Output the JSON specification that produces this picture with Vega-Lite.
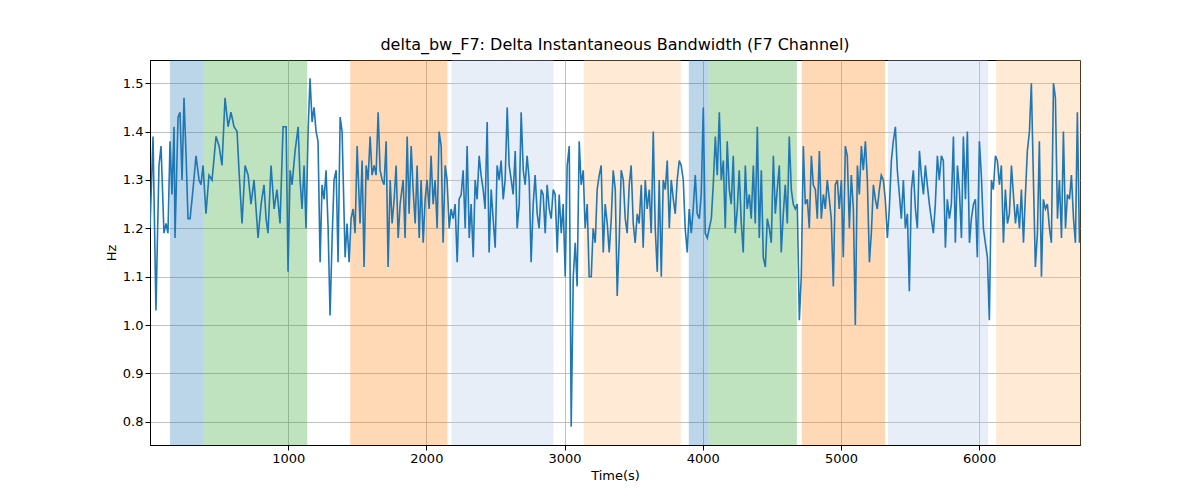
{"$schema":"https://vega.github.io/schema/vega-lite/v6.json","width":930,"height":385,"autosize":{"type":"none"},"padding":{"left":150,"top":60,"right":120,"bottom":55},"background":"white",
"title":{"text":"delta_bw_F7: Delta Instantaneous Bandwidth (F7 Channel)","font":"DejaVu Sans","fontSize":16,"fontWeight":"normal","offset":7},
"config":{"view":{"stroke":"black","strokeWidth":1},"axis":{"labelFont":"DejaVu Sans","titleFont":"DejaVu Sans","labelFontSize":13,"titleFontSize":13,"titleFontWeight":"normal","gridColor":"#b0b0b0","gridWidth":0.8,"domainColor":"black","tickColor":"black","labelColor":"black","tickSize":5}},
"datasets":{"spans":[{"a":145,"b":384,"c":"A"},{"a":384,"b":1138,"c":"B"},{"a":1449,"b":2152,"c":"C"},{"a":2181,"b":2920,"c":"D"},{"a":3138,"b":3841,"c":"E"},{"a":3899,"b":4043,"c":"A"},{"a":4043,"b":4681,"c":"B"},{"a":4717,"b":5319,"c":"C"},{"a":5341,"b":6065,"c":"D"},{"a":6123,"b":6739,"c":"E"}],
"line":[[0,1.20],[22,1.39],[43,1.03],[65,1.33],[80,1.37],[101,1.19],[116,1.21],[130,1.19],[145,1.38],[159,1.27],[174,1.41],[181,1.18],[203,1.43],[217,1.44],[232,1.30],[246,1.47],[261,1.35],[275,1.22],[290,1.22],[311,1.28],[333,1.35],[355,1.30],[369,1.29],[384,1.33],[405,1.23],[427,1.31],[449,1.30],[478,1.39],[500,1.37],[521,1.33],[543,1.47],[565,1.41],[586,1.44],[608,1.41],[630,1.40],[644,1.32],[666,1.21],[688,1.33],[710,1.31],[731,1.25],[753,1.30],[782,1.18],[804,1.25],[825,1.29],[840,1.22],[854,1.19],[876,1.33],[898,1.24],[919,1.28],[941,1.21],[963,1.41],[985,1.41],[999,1.11],[1014,1.32],[1028,1.29],[1050,1.36],[1072,1.41],[1086,1.30],[1100,1.24],[1115,1.33],[1129,1.20],[1144,1.40],[1158,1.51],[1173,1.42],[1187,1.45],[1202,1.40],[1216,1.38],[1231,1.13],[1245,1.29],[1260,1.26],[1274,1.32],[1289,1.20],[1303,1.02],[1318,1.18],[1332,1.30],[1347,1.32],[1361,1.13],[1376,1.43],[1390,1.40],[1412,1.14],[1426,1.21],[1441,1.13],[1455,1.22],[1470,1.24],[1484,1.19],[1499,1.37],[1520,1.21],[1535,1.34],[1549,1.12],[1564,1.33],[1578,1.30],[1593,1.39],[1607,1.31],[1622,1.33],[1636,1.31],[1651,1.44],[1665,1.32],[1680,1.30],[1694,1.29],[1709,1.38],[1723,1.12],[1738,1.30],[1752,1.21],[1767,1.26],[1781,1.33],[1796,1.18],[1810,1.25],[1832,1.30],[1846,1.18],[1861,1.39],[1875,1.23],[1890,1.37],[1904,1.28],[1919,1.21],[1933,1.33],[1948,1.18],[1962,1.30],[1977,1.17],[1991,1.26],[2005,1.30],[2020,1.24],[2034,1.35],[2049,1.25],[2063,1.30],[2078,1.20],[2092,1.40],[2107,1.37],[2121,1.17],[2136,1.33],[2150,1.30],[2165,1.20],[2179,1.24],[2194,1.22],[2208,1.25],[2223,1.13],[2237,1.26],[2252,1.27],[2266,1.32],[2281,1.20],[2295,1.37],[2310,1.18],[2324,1.25],[2339,1.14],[2353,1.30],[2367,1.26],[2382,1.35],[2396,1.31],[2411,1.28],[2425,1.24],[2440,1.42],[2454,1.15],[2469,1.28],[2483,1.22],[2498,1.16],[2512,1.33],[2527,1.30],[2541,1.34],[2556,1.26],[2570,1.30],[2585,1.45],[2599,1.33],[2614,1.30],[2628,1.27],[2643,1.36],[2657,1.20],[2672,1.25],[2686,1.44],[2701,1.32],[2715,1.29],[2729,1.35],[2744,1.30],[2758,1.13],[2773,1.25],[2787,1.31],[2802,1.23],[2816,1.20],[2831,1.28],[2845,1.27],[2860,1.19],[2874,1.29],[2889,1.24],[2903,1.22],[2918,1.28],[2932,1.27],[2947,1.15],[2961,1.27],[2976,1.19],[2990,1.25],[3005,1.10],[3019,1.33],[3034,1.37],[3048,0.79],[3063,1.10],[3077,1.17],[3091,1.08],[3106,1.38],[3120,1.29],[3135,1.32],[3149,1.20],[3164,1.25],[3178,1.10],[3193,1.10],[3207,1.20],[3222,1.17],[3236,1.28],[3251,1.31],[3265,1.33],[3280,1.15],[3294,1.25],[3309,1.21],[3323,1.15],[3338,1.22],[3352,1.32],[3367,1.28],[3381,1.06],[3396,1.18],[3410,1.32],[3425,1.30],[3439,1.22],[3453,1.19],[3468,1.29],[3482,1.33],[3497,1.21],[3511,1.17],[3526,1.23],[3540,1.21],[3555,1.29],[3569,1.16],[3584,1.30],[3598,1.24],[3613,1.28],[3627,1.19],[3642,1.40],[3656,1.20],[3671,1.11],[3685,1.30],[3700,1.10],[3714,1.30],[3729,1.28],[3743,1.34],[3758,1.20],[3772,1.30],[3787,1.26],[3801,1.23],[3815,1.30],[3830,1.34],[3844,1.33],[3859,1.30],[3873,1.20],[3888,1.15],[3902,1.24],[3917,1.19],[3931,1.24],[3946,1.31],[3960,1.23],[3975,1.22],[3989,1.27],[4004,1.45],[4018,1.19],[4033,1.18],[4047,1.20],[4062,1.22],[4076,1.29],[4091,1.39],[4105,1.31],[4120,1.44],[4134,1.30],[4149,1.34],[4163,1.20],[4177,1.38],[4192,1.28],[4206,1.25],[4221,1.35],[4235,1.19],[4250,1.24],[4264,1.32],[4279,1.21],[4293,1.15],[4308,1.33],[4322,1.24],[4337,1.27],[4351,1.22],[4366,1.33],[4380,1.21],[4395,1.41],[4409,1.18],[4424,1.32],[4438,1.14],[4453,1.12],[4467,1.22],[4482,1.20],[4496,1.17],[4511,1.35],[4525,1.23],[4539,1.28],[4554,1.33],[4568,1.15],[4583,1.23],[4597,1.29],[4612,1.21],[4626,1.39],[4641,1.28],[4655,1.25],[4670,1.24],[4684,1.25],[4699,1.01],[4713,1.10],[4728,1.37],[4742,1.25],[4757,1.26],[4771,1.20],[4786,1.35],[4800,1.29],[4815,1.28],[4829,1.22],[4844,1.36],[4858,1.22],[4873,1.27],[4887,1.24],[4901,1.30],[4916,1.26],[4930,1.22],[4945,1.08],[4959,1.29],[4974,1.30],[4988,1.24],[5003,1.30],[5017,1.14],[5032,1.37],[5046,1.35],[5061,1.20],[5075,1.31],[5090,1.24],[5104,1.00],[5119,1.33],[5133,1.27],[5148,1.37],[5162,1.32],[5177,1.38],[5191,1.30],[5206,1.13],[5220,1.19],[5235,1.29],[5249,1.26],[5263,1.24],[5278,1.28],[5292,1.31],[5307,1.30],[5321,1.26],[5336,1.18],[5350,1.24],[5365,1.34],[5379,1.38],[5394,1.41],[5408,1.32],[5423,1.27],[5437,1.22],[5452,1.30],[5466,1.20],[5481,1.23],[5495,1.07],[5510,1.28],[5524,1.32],[5539,1.24],[5553,1.20],[5568,1.36],[5582,1.31],[5597,1.27],[5611,1.33],[5625,1.29],[5640,1.25],[5654,1.22],[5669,1.19],[5683,1.25],[5698,1.35],[5712,1.30],[5727,1.35],[5741,1.34],[5756,1.16],[5770,1.26],[5785,1.22],[5799,1.25],[5814,1.39],[5828,1.17],[5843,1.33],[5857,1.28],[5872,1.18],[5886,1.39],[5901,1.26],[5915,1.40],[5930,1.17],[5944,1.22],[5959,1.25],[5973,1.26],[5987,1.14],[6002,1.38],[6016,1.31],[6031,1.20],[6045,1.17],[6060,1.14],[6074,1.01],[6089,1.30],[6103,1.28],[6118,1.35],[6132,1.34],[6147,1.29],[6161,1.33],[6176,1.17],[6190,1.28],[6205,1.21],[6219,1.23],[6234,1.33],[6248,1.27],[6263,1.21],[6277,1.25],[6292,1.20],[6306,1.28],[6321,1.17],[6335,1.27],[6349,1.36],[6364,1.40],[6378,1.50],[6393,1.30],[6407,1.12],[6422,1.19],[6436,1.38],[6451,1.10],[6465,1.26],[6480,1.24],[6494,1.25],[6509,1.20],[6523,1.17],[6538,1.50],[6552,1.47],[6567,1.22],[6581,1.30],[6596,1.18],[6610,1.40],[6625,1.20],[6639,1.27],[6654,1.26],[6668,1.31],[6683,1.22],[6697,1.17],[6711,1.44],[6726,1.17]]},
"layer":[
{"data":{"name":"spans"},"mark":{"type":"rect","opacity":0.3},"encoding":{"x":{"field":"a","type":"quantitative","scale":{"domain":[0,6730],"nice":false,"zero":false}},"x2":{"field":"b"},"color":{"field":"c","type":"nominal","legend":null,"scale":{"domain":["A","B","C","D","E"],"range":["#1f77b4","#2ca02c","#ff7f0e","#aec7e8","#ffbb78"]}}}},
{"data":{"name":"line"},"transform":[{"calculate":"datum[0]","as":"t"},{"calculate":"datum[1]","as":"v"}],"mark":{"type":"line","color":"#1f77b4","strokeWidth":1.6,"clip":true},"encoding":{"x":{"field":"t","type":"quantitative","title":"Time(s)","scale":{"domain":[0,6730],"nice":false,"zero":false},"axis":{"values":[1000,2000,3000,4000,5000,6000],"format":"d","grid":true}},"y":{"field":"v","type":"quantitative","title":"Hz","scale":{"domain":[0.752,1.548],"nice":false,"zero":false},"axis":{"values":[0.8,0.9,1.0,1.1,1.2,1.3,1.4,1.5],"format":".1f","grid":true}}}}
]}
